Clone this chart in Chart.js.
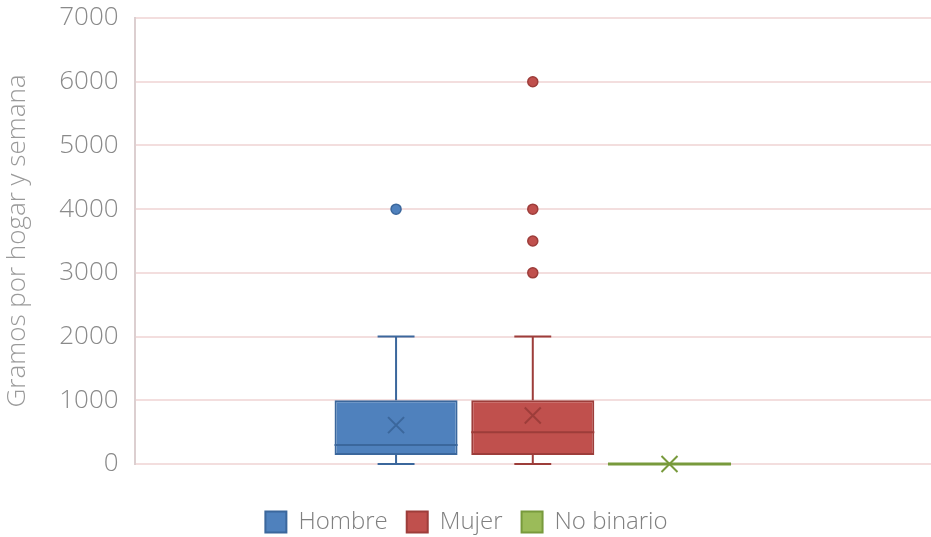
<!DOCTYPE html>
<html>
<head>
<meta charset="utf-8">
<script src="https://cdn.jsdelivr.net/npm/chart.js@4"></script>
<style>
  html, body { margin: 0; padding: 0; background: #fff; }
  #wrap { width: 931px; height: 537px; }
</style>
</head>
<body>
<div id="wrap"><canvas id="boxChart"></canvas></div>
<script>
// datos
const categories = ["Hombre", "Mujer", "No binario"];
const minimos = [0, 0, 0];
const q1 = [140, 140, 0];
const medianas = [300, 500, 0];
const q3 = [1000, 1000, 0];
const maximos = [2000, 2000, 0];
const medias = [610, 760, 0];
const atipicos = [[4000], [3000, 3500, 4000, 6000], []];
const yTicks = [0, 1000, 2000, 3000, 4000, 5000, 6000, 7000];

const rellenos = ["#4f81bd", "#c0504d", "#9bbb59"];
const bordes = ["#3b679c", "#9d3d3a", "#789a3c"];

const fuente = "'Open Sans', Lato, sans-serif";

// bigotes, mediana, media y atipicos
const boxPlugin = {
  id: "boxExtras",
  afterDatasetsDraw(chart) {
    const ctx = chart.ctx;
    const y = chart.scales.y;
    categories.forEach((c, i) => {
      const bar = chart.getDatasetMeta(i).data[0];
      const x = bar.x;
      const w = bar.width;
      const col = bordes[i];
      ctx.save();
      ctx.strokeStyle = col;
      ctx.lineWidth = 2;
      // bigotes
      const cap = w * 0.15;
      ctx.beginPath();
      ctx.moveTo(x, y.getPixelForValue(q3[i]));
      ctx.lineTo(x, y.getPixelForValue(maximos[i]));
      ctx.moveTo(x - cap, y.getPixelForValue(maximos[i]));
      ctx.lineTo(x + cap, y.getPixelForValue(maximos[i]));
      ctx.moveTo(x, y.getPixelForValue(q1[i]));
      ctx.lineTo(x, y.getPixelForValue(minimos[i]));
      ctx.moveTo(x - cap, y.getPixelForValue(minimos[i]));
      ctx.lineTo(x + cap, y.getPixelForValue(minimos[i]));
      ctx.stroke();
      // mediana
      if (q1[i] === q3[i]) ctx.lineWidth = 3;
      ctx.beginPath();
      ctx.moveTo(x - w / 2, y.getPixelForValue(medianas[i]));
      ctx.lineTo(x + w / 2, y.getPixelForValue(medianas[i]));
      ctx.stroke();
      // media
      const my = y.getPixelForValue(medias[i]);
      const s = 8;
      ctx.lineWidth = 2;
      ctx.beginPath();
      ctx.moveTo(x - s, my - s);
      ctx.lineTo(x + s, my + s);
      ctx.moveTo(x + s, my - s);
      ctx.lineTo(x - s, my + s);
      ctx.stroke();
      // atipicos
      ctx.fillStyle = rellenos[i];
      ctx.lineWidth = 1.5;
      atipicos[i].forEach(v => {
        ctx.beginPath();
        ctx.arc(x, y.getPixelForValue(v), 5, 0, Math.PI * 2);
        ctx.fill();
        ctx.stroke();
      });
      ctx.restore();
    });
  }
};

const ctx = document.getElementById("boxChart").getContext("2d");

new Chart(ctx, {
  type: "bar",
  data: {
    labels: [""],
    datasets: categories.map((c, i) => ({
      label: c,
      data: [[q1[i], q3[i]]],
      backgroundColor: rellenos[i],
      borderColor: bordes[i],
      borderWidth: 2,
      borderSkipped: false,
      categoryPercentage: 0.515,
      barPercentage: 0.9,
    })),
  },
  options: {
    responsive: true,
    maintainAspectRatio: false,
    animation: false,
    layout: { padding: { top: 18, right: 0, left: 2, bottom: -7 } },
    plugins: {
      legend: {
        position: "bottom",
        labels: {
          boxWidth: 21,
          boxHeight: 21,
          padding: 19,
          color: "#808080",
          font: { family: fuente, size: 24, weight: "300" },
        },
      },
      tooltip: { enabled: false },
    },
    scales: {
      x: {
        display: true,
        grid: { display: false },
        border: { display: false },
        ticks: { display: false },
        afterFit(scale) {
          scale.height = 27;
        },
      },
      y: {
        min: 0,
        max: 7000,
        afterBuildTicks(scale) {
          scale.ticks = yTicks.map(v => ({ value: v }));
        },
        afterFit(scale) {
          scale.paddingTop = 0;
          scale.paddingBottom = 0;
        },
        ticks: {
          padding: 16,
          color: "#8a8a8a",
          font: { family: fuente, size: 26, weight: "300", lineHeight: 0.6 },
          callback: v => String(v),
        },
        grid: {
          color: "#f3dede",
          lineWidth: 2,
          drawTicks: false,
        },
        border: { color: "#dccfd0", width: 2 },
        title: {
          display: true,
          text: "Gramos por hogar y semana",
          color: "#9a9a9a",
          padding: { top: 0, bottom: 10 },
          font: { family: fuente, size: 26, weight: "300" },
        },
      },
    },
  },
  plugins: [boxPlugin],
});
</script>
</body>
</html>
